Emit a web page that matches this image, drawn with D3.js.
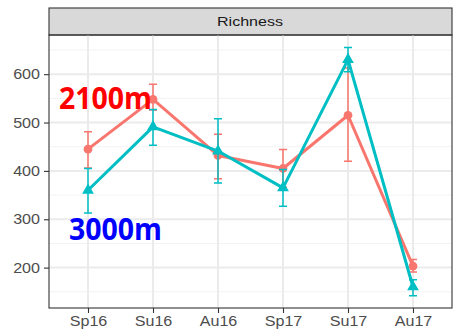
<!DOCTYPE html>
<html>
<head>
<meta charset="utf-8">
<script src="https://cdn.jsdelivr.net/npm/d3@7"></script>
<style>
  body { margin: 0; background: #fff; }
  svg { display: block; }
</style>
</head>
<body>
<div id="chart"></div>
<script>
const seasons = ['Sp16', 'Su16', 'Au16', 'Sp17', 'Su17', 'Au17'];

// 2100m
const lowMean = [445, 548, 432, 405, 515, 203];
const lowMin  = [406, 526, 384, 366, 420, 191];
const lowMax  = [481, 579, 476, 444, 613, 217];

// 3000m
const highMean = [360, 491, 441, 365, 630, 160];
const highMin  = [313, 453, 375, 327, 605, 142];
const highMax  = [405, 527, 508, 403, 655, 175];

const yTicks = [200, 300, 400, 500, 600];
const yMinor = [150, 250, 350, 450, 550, 650];

const width = 459, height = 335;
const panel = {left: 49, right: 452, top: 35, bottom: 308};
const stripTop = 8;

const redColor = '#F8766D';
const tealColor = '#00BFC4';
const gridColor = '#EBEBEB';
const axisTextColor = '#4D4D4D';
const textStretch = 1.15; // the picture's text is a little wider than its height suggests

const svg = d3.select('#chart')
  .append('svg')
  .attr('width', width)
  .attr('height', height)
  .style('font-family', '"Liberation Sans", Arial, sans-serif');

const xScale = d3.scalePoint()
  .domain(seasons)
  .range([panel.left, panel.right])
  .padding(0.6);

const yScale = d3.scaleLinear()
  .domain([116.5, 681])
  .range([panel.bottom, panel.top]);

// strip
svg.append('rect')
  .attr('x', panel.left)
  .attr('y', stripTop)
  .attr('width', panel.right - panel.left)
  .attr('height', panel.top - stripTop)
  .attr('fill', '#D9D9D9')
  .attr('stroke', '#333333')
  .attr('stroke-width', 1.1);

svg.append('text')
  .attr('x', 217)
  .attr('y', (stripTop + panel.top) / 2 + 4.5)
  .attr('fill', '#1A1A1A')
  .attr('textLength', 66)
  .attr('lengthAdjust', 'spacingAndGlyphs')
  .style('font-size', '13px')
  .text('Richness');

// grid
const grid = svg.append('g');
grid.selectAll('.minor')
  .data(yMinor)
  .join('line')
  .attr('x1', panel.left).attr('x2', panel.right)
  .attr('y1', d => yScale(d)).attr('y2', d => yScale(d))
  .attr('stroke', '#F3F3F3')
  .attr('stroke-width', 1);

grid.selectAll('.major-y')
  .data(yTicks)
  .join('line')
  .attr('x1', panel.left).attr('x2', panel.right)
  .attr('y1', d => yScale(d)).attr('y2', d => yScale(d))
  .attr('stroke', gridColor)
  .attr('stroke-width', 2);

grid.selectAll('.major-x')
  .data(seasons)
  .join('line')
  .attr('x1', d => xScale(d)).attr('x2', d => xScale(d))
  .attr('y1', panel.top).attr('y2', panel.bottom)
  .attr('stroke', gridColor)
  .attr('stroke-width', 2);

function stretchText(sel) {
  sel.each(function () {
    const t = d3.select(this);
    const w = this.getComputedTextLength();
    t.attr('textLength', w * textStretch).attr('lengthAdjust', 'spacingAndGlyphs');
  });
}

// axes
const yAxis = svg.append('g')
  .attr('transform', `translate(${panel.left},0)`)
  .call(d3.axisLeft(yScale).tickValues(yTicks).tickSize(5).tickPadding(4));
yAxis.select('.domain').remove();
yAxis.selectAll('line').attr('stroke', '#333333').attr('stroke-width', 1.1);
yAxis.selectAll('text')
  .attr('fill', axisTextColor)
  .style('font-size', '14px')
  .style('font-family', '"Liberation Sans", Arial, sans-serif')
  .call(stretchText);

const xAxis = svg.append('g')
  .attr('transform', `translate(0,${panel.bottom})`)
  .call(d3.axisBottom(xScale).tickSize(5).tickPadding(3));
xAxis.select('.domain').remove();
xAxis.selectAll('line').attr('stroke', '#333333').attr('stroke-width', 1.1);
xAxis.selectAll('text')
  .attr('fill', axisTextColor)
  .style('font-size', '14px')
  .style('font-family', '"Liberation Sans", Arial, sans-serif')
  .call(stretchText);

// series
const series = [
  {mean: lowMean, min: lowMin, max: lowMax, color: redColor, shape: d3.symbolCircle},
  {mean: highMean, min: highMin, max: highMax, color: tealColor, shape: d3.symbolTriangle}
];

const line = d3.line()
  .x((d, i) => xScale(seasons[i]))
  .y(d => yScale(d));

const capHalf = 4;

series.forEach(s => {
  const g = svg.append('g');

  g.selectAll('.err')
    .data(seasons)
    .join('path')
    .attr('d', (d, i) => {
      const x = xScale(d);
      const y0 = yScale(s.min[i]);
      const y1 = yScale(s.max[i]);
      return `M${x - capHalf},${y1}H${x + capHalf}M${x},${y1}V${y0}M${x - capHalf},${y0}H${x + capHalf}`;
    })
    .attr('fill', 'none')
    .attr('stroke', s.color)
    .attr('stroke-width', 1.5);

  g.append('path')
    .datum(s.mean)
    .attr('d', line)
    .attr('fill', 'none')
    .attr('stroke', s.color)
    .attr('stroke-width', 3)
    .attr('stroke-linejoin', 'round');

  g.selectAll('.pt')
    .data(s.mean)
    .join('path')
    .attr('transform', (d, i) => `translate(${xScale(seasons[i])},${yScale(d)})`)
    .attr('d', d3.symbol().type(s.shape).size(60))
    .attr('fill', s.color);
});

// panel border
svg.append('rect')
  .attr('x', panel.left)
  .attr('y', panel.top)
  .attr('width', panel.right - panel.left)
  .attr('height', panel.bottom - panel.top)
  .attr('fill', 'none')
  .attr('stroke', '#333333')
  .attr('stroke-width', 1.1);

// elevation labels
svg.append('text')
  .attr('x', 59)
  .attr('y', 109)
  .attr('fill', '#FF0000')
  .attr('textLength', 93)
  .attr('lengthAdjust', 'spacingAndGlyphs')
  .style('font-size', '30px')
  .style('font-weight', 'bold')
  .style('font-family', '"Open Sans", sans-serif')
  .text('2100m');

svg.append('text')
  .attr('x', 69)
  .attr('y', 240)
  .attr('fill', '#0000FF')
  .attr('textLength', 93)
  .attr('lengthAdjust', 'spacingAndGlyphs')
  .style('font-size', '30px')
  .style('font-weight', 'bold')
  .style('font-family', '"Open Sans", sans-serif')
  .text('3000m');
</script>
</body>
</html>
